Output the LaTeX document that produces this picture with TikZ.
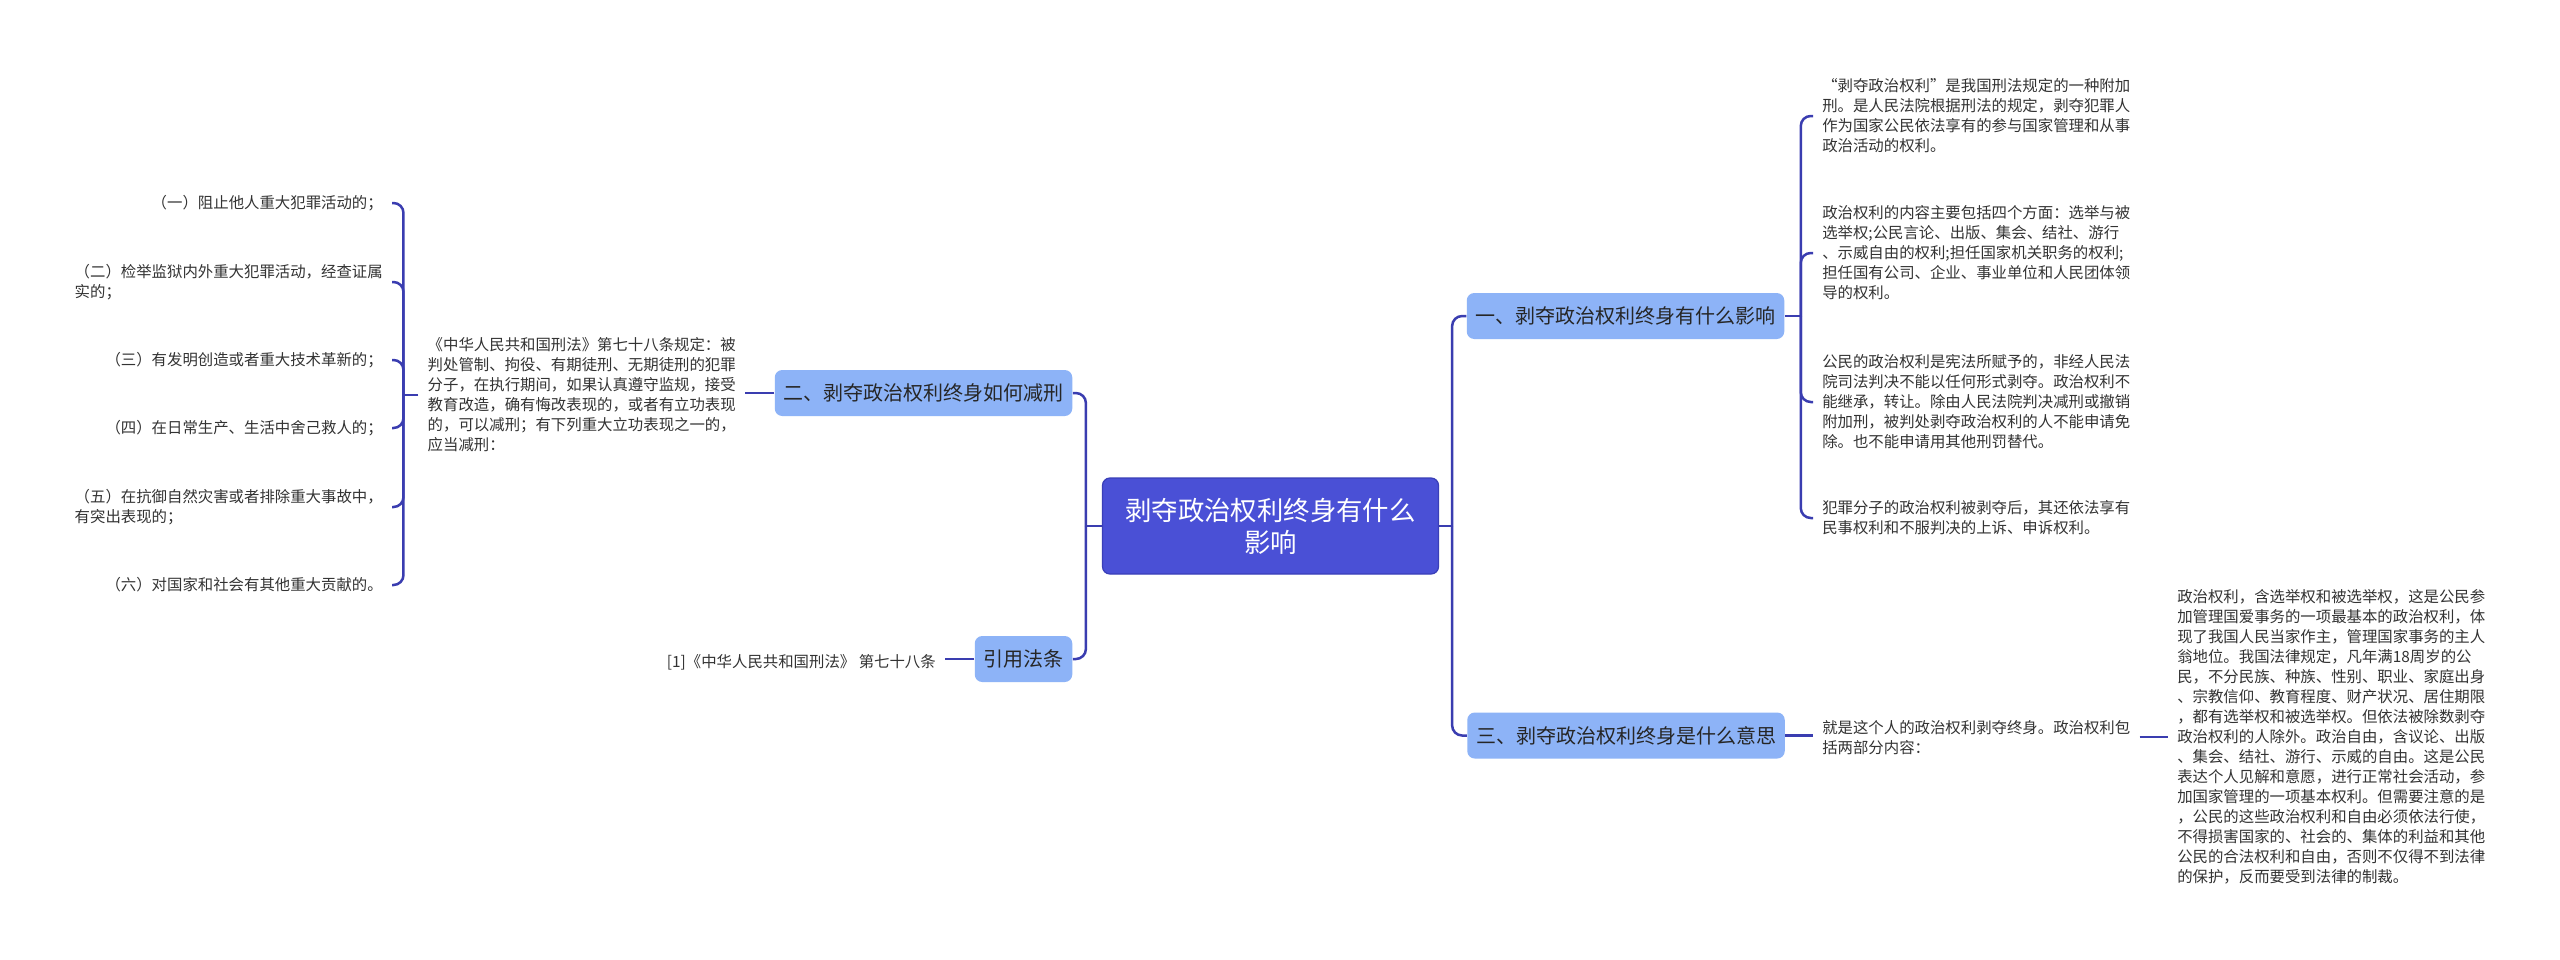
\documentclass[tikz,border=0pt]{standalone}
\usepackage{fontspec}
\setmainfont{Noto Sans CJK SC}
\usetikzlibrary{calc}
\definecolor{rootfill}{HTML}{4A50D6}
\definecolor{rootdraw}{HTML}{3A3FB8}
\definecolor{lvfill}{HTML}{8DB3F7}
\definecolor{conncol}{HTML}{3A3DB0}
\definecolor{txtcol}{HTML}{333333}
\begin{document}
\begin{tikzpicture}[x=0.4pt,y=-0.4pt,
  rootbox/.style={fill=rootfill,draw=rootdraw,line width=0.5pt,rounded corners=3pt,text=white,
    font=\fontsize{10.56pt}{12.8pt}\selectfont,align=center,minimum width=134.4pt,minimum height=38.4pt,inner sep=0pt},
  lvbox/.style={fill=lvfill,rounded corners=3pt,text=black!85,font=\fontsize{8pt}{10pt}\selectfont,
    inner xsep=3.5pt,inner ysep=0pt,minimum height=18.4pt},
  leaf/.style={text=txtcol,font=\fontsize{6.16pt}{8pt}\selectfont,align=left,inner xsep=3.5pt,inner ysep=2pt},
  conn/.style={draw=conncol,line width=1pt},
  rconn/.style={conn,rounded corners=4pt}]
\useasboundingbox[fill=white] (0,0) rectangle (2560,960);

% main nodes
\node[rootbox] (root) at (1270.5,526) {剥夺政治权利终身有什么\\影响};
\node[lvbox] (n1) at (1625.5,316) {一、剥夺政治权利终身有什么影响};
\node[lvbox] (n3) at (1626,735.5) {三、剥夺政治权利终身是什么意思};
\node[lvbox] (n2) at (923.5,393) {二、剥夺政治权利终身如何减刑};
\node[lvbox] (ncite) at (1023.5,659) {引用法条};

% children of n1
\node[leaf,anchor=west] (c11) at (1813,116) {“剥夺政治权利”是我国刑法规定的一种附加\\刑。是人民法院根据刑法的规定，剥夺犯罪人\\作为国家公民依法享有的参与国家管理和从事\\政治活动的权利。};
\node[leaf,anchor=west] (c12) at (1813,253) {政治权利的内容主要包括四个方面：选举与被\\选举权;公民言论、出版、集会、结社、游行\\、示威自由的权利;担任国家机关职务的权利;\\担任国有公司、企业、事业单位和人民团体领\\导的权利。};
\node[leaf,anchor=west] (c13) at (1813,402) {公民的政治权利是宪法所赋予的，非经人民法\\院司法判决不能以任何形式剥夺。政治权利不\\能继承，转让。除由人民法院判决减刑或撤销\\附加刑，被判处剥夺政治权利的人不能申请免\\除。也不能申请用其他刑罚替代。};
\node[leaf,anchor=west] (c14) at (1813,518) {犯罪分子的政治权利被剥夺后，其还依法享有\\民事权利和不服判决的上诉、申诉权利。};

% children of n3
\node[leaf,anchor=west] (c31) at (1813,738) {就是这个人的政治权利剥夺终身。政治权利包\\括两部分内容：};
\node[leaf,anchor=west] (c32) at (2168,737) {政治权利，含选举权和被选举权，这是公民参\\加管理国爱事务的一项最基本的政治权利，体\\现了我国人民当家作主，管理国家事务的主人\\翁地位。我国法律规定，凡年满18周岁的公\\民，不分民族、种族、性别、职业、家庭出身\\、宗教信仰、教育程度、财产状况、居住期限\\，都有选举权和被选举权。但依法被除数剥夺\\政治权利的人除外。政治自由，含议论、出版\\、集会、结社、游行、示威的自由。这是公民\\表达个人见解和意愿，进行正常社会活动，参\\加国家管理的一项基本权利。但需要注意的是\\，公民的这些政治权利和自由必须依法行使，\\不得损害国家的、社会的、集体的利益和其他\\公民的合法权利和自由，否则不仅得不到法律\\的保护，反而要受到法律的制裁。};

% children of n2
\node[leaf,anchor=east] (c21) at (745,395) {《中华人民共和国刑法》第七十八条规定：被\\判处管制、拘役、有期徒刑、无期徒刑的犯罪\\分子，在执行期间，如果认真遵守监规，接受\\教育改造，确有悔改表现的，或者有立功表现\\的，可以减刑；有下列重大立功表现之一的，\\应当减刑：};
\node[leaf,anchor=east] (d1) at (392,203) {（一）阻止他人重大犯罪活动的；};
\node[leaf,anchor=east] (d2) at (392,282) {（二）检举监狱内外重大犯罪活动，经查证属\\实的；};
\node[leaf,anchor=east] (d3) at (392,360) {（三）有发明创造或者重大技术革新的；};
\node[leaf,anchor=east] (d4) at (392,428) {（四）在日常生产、生活中舍己救人的；};
\node[leaf,anchor=east] (d5) at (392,507) {（五）在抗御自然灾害或者排除重大事故中，\\有突出表现的；};
\node[leaf,anchor=east] (d6) at (392,585) {（六）对国家和社会有其他重大贡献的。};

% child of cite
\node[leaf,anchor=east] (cref) at (945,662) {[1]《中华人民共和国刑法》 第七十八条};

% connectors: root
\draw[conn] (root.east) -- ($(root.east)+(13,0)$);
\foreach \c in {n1,n3} \draw[rconn] ($(root.east)+(13,0)$) |- (\c.west);
\draw[conn] (root.west) -- ($(root.west)+(-16,0)$);
\foreach \c in {n2,ncite} \draw[rconn] ($(root.west)+(-16,0)$) |- (\c.east);

% n1 children
\draw[conn] (n1.east) -- ($(n1.east)+(16,0)$);
\foreach \c in {c11,c12,c13,c14} \draw[rconn] ($(n1.east)+(16,0)$) |- (\c.west);

% n3 children
\draw[conn] (n3.east) -- (n3.east -| c31.west);
\draw[conn] (c31.east |- c32.west) -- (c32.west);

% n2 children
\draw[conn] (n2.west) -- (n2.west -| c21.east);
\draw[conn] (c21.west) -- ($(c21.west)+(-15,0)$);
\foreach \c in {d1,d2,d3,d4,d5,d6} \draw[rconn] ($(c21.west)+(-15,0)$) |- (\c.east);

% cite child
\draw[conn] (ncite.west) -- (ncite.west -| cref.east);
\end{tikzpicture}
\end{document}
